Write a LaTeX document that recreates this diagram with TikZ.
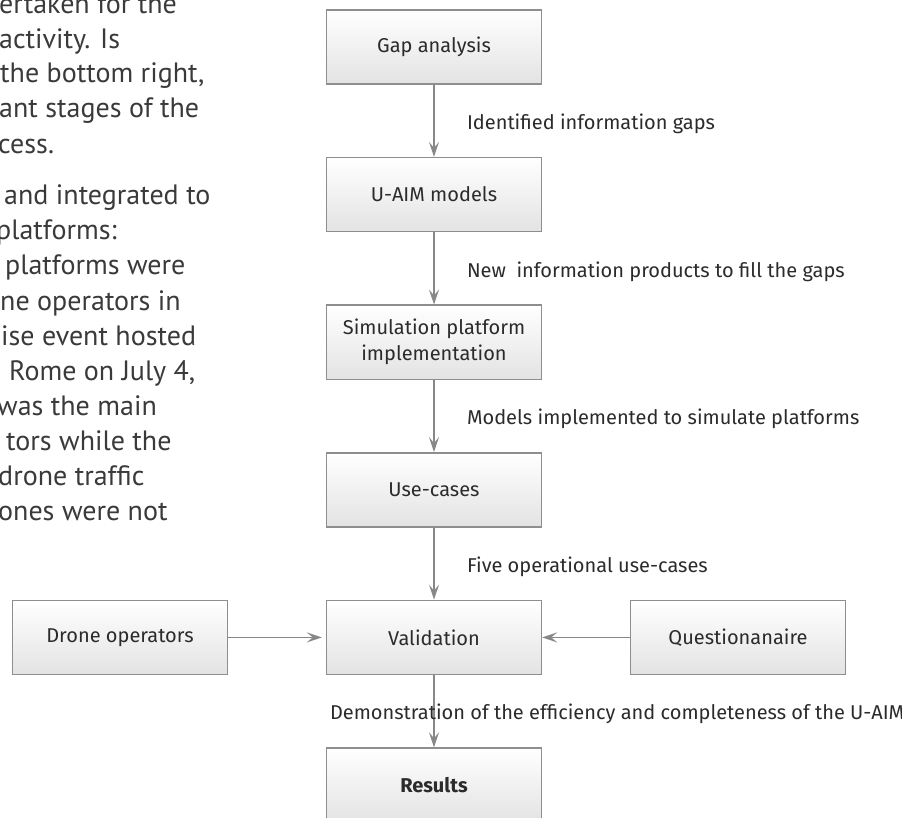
\documentclass[tikz,border=0pt]{standalone}
\usepackage{fontspec}
\setmainfont{Fira Sans}
\newfontfamily\bodyfont{PT Sans}
\usetikzlibrary{positioning,arrows.meta}
\definecolor{boxline}{HTML}{8E8E8E}
\definecolor{flowgray}{HTML}{888888}
\definecolor{inkgray}{HTML}{2B2B2B}
\definecolor{bodygray}{HTML}{3A3A3A}
\tikzset{box node/.style={rectangle,draw=boxline,line width=1.4pt,top color=white,bottom color=black!11,
    minimum width=215pt,minimum height=74pt,inner sep=0pt,text=inkgray,
    font=\fontsize{20}{26}\selectfont,align=center},
  flow/.style={draw=flowgray,line width=1.4pt,-{Stealth[length=15pt,width=10pt,inset=6pt]}},
  edge label/.style={anchor=west,xshift=29pt,yshift=-3pt,text=inkgray,font=\fontsize{20}{24}\selectfont},
  body text/.style={anchor=base west,inner sep=0pt,text=bodygray,font=\bodyfont\fontsize{28}{34}\selectfont} }

\begin{document}
\begin{tikzpicture}[x=1pt,y=-1pt]
\useasboundingbox (0,0) rectangle (902,818);
\clip (0,0) rectangle (902,818);

% text column cut by the page edge
\foreach \x/\y/\txt in {-1/14/ertaken for the, -1/49/activity. Is, 0/83/{the bottom right,},
    -1/118/ant stages of the, -2/154/cess., 4/205/and integrated to, -4/240/platforms:,
    5/275/platforms were, 0/310/ne operators in, 1/345/ise event hosted, 9/380/{Rome on July 4,},
    -3/415/was the main, 6/450/tors while the, -2/485/drone traffic, -2/520/ones were not}
  \node[body text] at (\x,\y) {\txt};

\begin{scope}[on grid]
  \node[box node] (gap) at (434,47) {Gap analysis};
  \node[box node] (uaim) [below=147.6pt of gap] {U-AIM models};
  \node[box node] (sim) [below=147.6pt of uaim] {Simulation platform\\implementation};
  \node[box node] (use) [below=147.6pt of sim] {Use-cases};
  \node[box node] (val) [below=147.6pt of use] {Validation};
  \node[box node,font=\fontsize{20}{26}\selectfont\bfseries] (res) [below=147.6pt of val] {Results};
  \node[box node] (drone) [left=314pt of val] {Drone operators};
  \node[box node] (quest) [right=304pt of val] {Questionanaire};

  \path
    (gap) edge[flow] node[edge label] {Identified information gaps} (uaim)
    (uaim) edge[flow] node[edge label] {New\ \ information products to fill the gaps} (sim)
    (sim) edge[flow] node[edge label] {Models implemented to simulate platforms} (use)
    (use) edge[flow] node[edge label] {Five operational use-cases} (val)
    (val) edge[flow] node[edge label,xshift=-137pt] {Demonstration of the efficiency and completeness of the U-AIM} (res)
    (drone) edge[flow,shorten >=4pt] (val)
    (quest) edge[flow] (val);
\end{scope}
\end{tikzpicture}
\end{document}
